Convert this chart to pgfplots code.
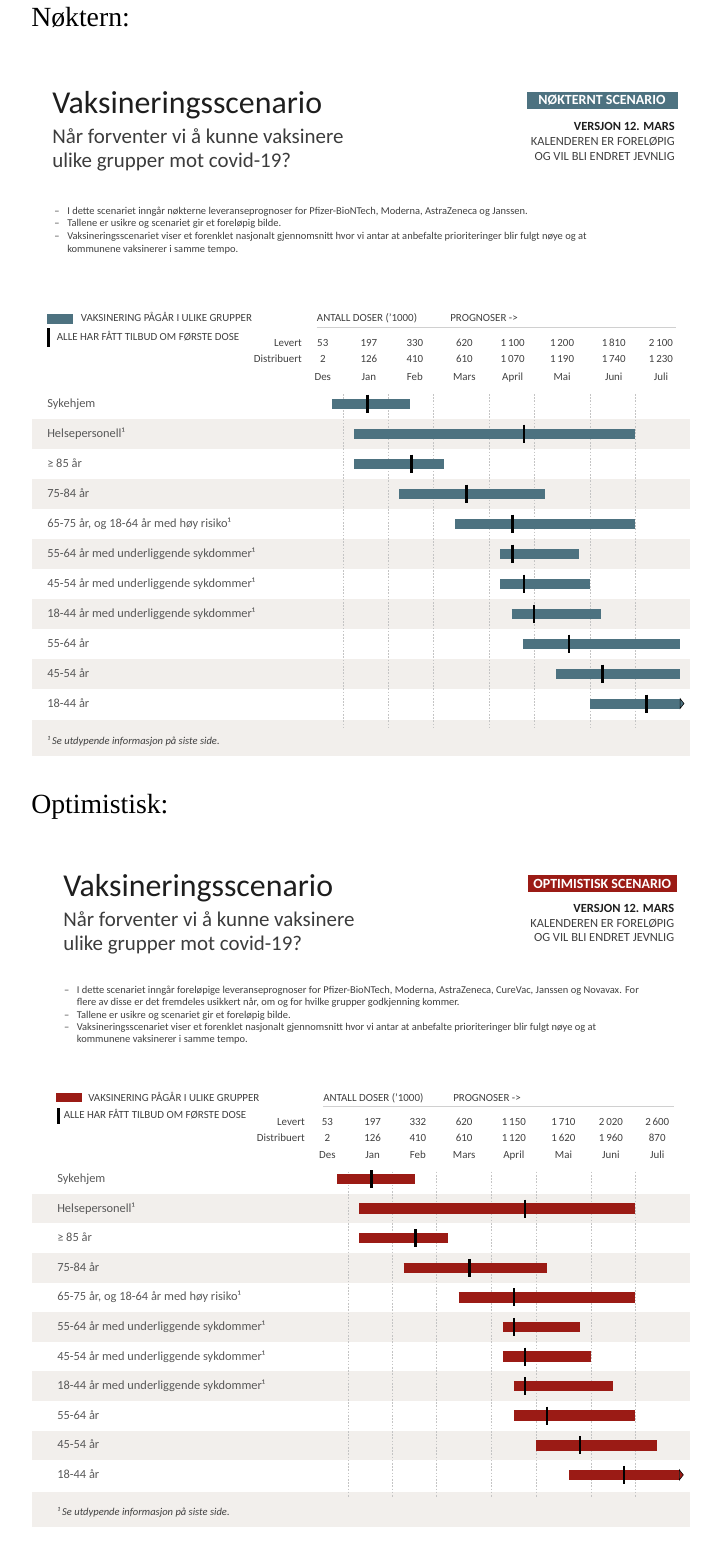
\documentclass[border=0pt]{standalone}
\usepackage{fontspec}
\setmainfont{Carlito}
\newfontfamily\serif{Liberation Serif}
\usepackage{pgfplots}
\pgfplotsset{compat=1.18}
\usepackage{pgfplotstable}

\definecolor{nblue}{HTML}{4D7280}
\definecolor{ored}{HTML}{9B1B15}
\definecolor{band}{HTML}{F2EFEC}
\definecolor{gridc}{HTML}{C4C4C4}
\definecolor{rulec}{HTML}{D0D0D0}
\definecolor{tit}{HTML}{1E1E1E}
\definecolor{sub}{HTML}{3C3C3C}
\definecolor{txt}{HTML}{404040}
\definecolor{lbl}{HTML}{595959}

\newcommand{\fhead}{\serif\fontsize{20.8}{25}\selectfont}
\newcommand{\ftitle}{\fontsize{23.9}{28}\selectfont}
\newcommand{\fsub}{\fontsize{15.7}{19}\selectfont}
\newcommand{\fbadge}{\fontsize{10.5}{12}\selectfont\bfseries}
\newcommand{\fver}{\fontsize{9.35}{11}\selectfont}
\newcommand{\fbul}{\fontsize{7.85}{9}\selectfont}
\newcommand{\fleg}{\fontsize{8.2}{9.5}\selectfont}
\newcommand{\ftab}{\fontsize{8.2}{9.5}\selectfont}
\newcommand{\frow}{\fontsize{9.3}{11}\selectfont}
\newcommand{\ffoot}{\fontsize{7.9}{9}\selectfont\itshape}

% x = weeks from 1 Dec (Jan starts at 4, Feb 8, Mar 12, Apr 17, May 21, Jun 26, Jul 30)
% nøktern scenario
\pgfplotstableread{
row start end mark
1  3 10  6.2
2  5 30 20.1
3  5 13 10.1
4  9 22 15.0
5 14 30 19.1
6 18 25 19.1
7 18 26 20.1
8 19 27 21.0
9 20 34 24.1
10 23 34 27.1
11 26 34 31.0
}\barsA

\pgfplotstableread{
x lev dist mon
2.2  53 2 Des
6.3  197 126 Jan
10.4 330 410 Feb
14.8 620 610 Mars
19.1 1100 1070 April
23.5 1200 1190 Mai
28.1 1810 1740 Juni
32.3 2100 1230 Juli
}\dosesA

% optimistisk scenario
\pgfplotstableread{
row start end mark
1  3 10  6.1
2  5 30 20.0
3  5 13 10.1
4  9 22 15.0
5 14 30 19.0
6 18 25 19.0
7 18 26 20.0
8 19 28 20.0
9 19 30 22.0
10 21 32 25.0
11 24 34 29.0
}\barsB

\pgfplotstableread{
x lev dist mon
2.1  53 2 Des
6.2  197 126 Jan
10.3 332 410 Feb
14.5 620 610 Mars
19.0 1150 1120 April
23.5 1710 1620 Mai
27.8 2020 1960 Juni
32.0 2600 870 Juli
}\dosesB

\pgfplotsset{
  gantt/.style={
    scale only axis, anchor=north west, clip=false,
    width=493.5pt, y dir=reverse,
    axis line style={draw=none}, tick style={draw=none},
    xtick={4,8,12,17,21,26,30}, xticklabels={},
    xmajorgrids, grid style={gridc, dash pattern=on 1.2pt off 1.2pt, line width=0.5pt},
    ytick={1,...,11},
    yticklabels={Sykehjem, Helsepersonell¹, ≥ 85 år, 75-84 år,
      {65-75 år, og 18-64 år med høy risiko¹},
      55-64 år med underliggende sykdommer¹,
      45-54 år med underliggende sykdommer¹,
      18-44 år med underliggende sykdommer¹,
      55-64 år, 45-54 år, 18-44 år},
    yticklabel style={anchor=west, inner sep=0pt, font=\frow, text=lbl,
      text height=1.4ex, text depth=0.3ex},
  },
  dose/.style={draw=none, mark=none, point meta=explicit,
    nodes near coords={\pgfmathprintnumber[assume math mode=true,1000 sep={\,}]{\pgfplotspointmeta}},
    nodes near coords style={anchor=base, inner sep=0pt, font=\ftab, text=txt}},
  month/.style={draw=none, mark=none, point meta=explicit symbolic,
    nodes near coords,
    nodes near coords style={anchor=base, inner sep=0pt, font=\ftab, text=txt}},
  tick/.style={only marks, mark=|, mark size=6.75pt,
    mark options={line width=1.9pt, draw=black}},
}

\begin{document}
\begin{tikzpicture}
\begin{scope}[x=0.75pt, y=-0.75pt]
\path (0,0) rectangle (711,1550);
\coordinate (P1) at (32,394);
\coordinate (P2) at (32,1171.7);

% ---------------- panel 1 ----------------
\node[anchor=base west, inner sep=0, font=\fhead] at (31,26.7) {Nøktern:};
\node[anchor=base west, inner sep=0, font=\ftitle, text=tit] at (52,113) {Vaksineringsscenario};
\node[anchor=base west, inner sep=0, font=\fsub, text=sub] at (52,143.4) {Når forventer vi å kunne vaksinere};
\node[anchor=base west, inner sep=0, font=\fsub, text=sub] at (52,167.5) {ulike grupper mot covid-19?};
\fill[nblue] (526.5,91.7) rectangle (677.5,109.3);
\node[text=white, font=\fbadge] at (602,100.5) {NØKTERNT SCENARIO};
\node[anchor=base east, inner sep=0, font=\fver\bfseries, text=tit] at (675,130) {VERSJON 12. MARS};
\node[anchor=base east, inner sep=0, font=\fver, text=txt] at (675,145.3) {KALENDEREN ER FORELØPIG};
\node[anchor=base east, inner sep=0, font=\fver, text=txt] at (675,160) {OG VIL BLI ENDRET JEVNLIG};

\begin{scope}[every node/.style={anchor=base west, inner sep=0, font=\fbul, text=txt}]
\node at (54,214) {–};
\node at (67,214) {I dette scenariet inngår nøkterne leveranseprognoser for Pfizer-BioNTech, Moderna, AstraZeneca og Janssen.};
\node at (54,226) {–};
\node at (67,226) {Tallene er usikre og scenariet gir et foreløpig bilde.};
\node at (54,239.5) {–};
\node at (67,239.5) {Vaksineringsscenariet viser et forenklet nasjonalt gjennomsnitt hvor vi antar at anbefalte prioriteringer blir fulgt nøye og at};
\node at (67,252) {kommunene vaksinerer i samme tempo.};
\end{scope}

\fill[nblue] (47,314) rectangle (73,324);
\fill[black] (47,328) rectangle (50,346.5);
\begin{scope}[every node/.style={anchor=base west, inner sep=0, font=\fleg, text=txt}]
\node at (80.6,321.5) {VAKSINERING PÅGÅR I ULIKE GRUPPER};
\node at (56.6,340) {ALLE HAR FÅTT TILBUD OM FØRSTE DOSE};
\node at (316.7,321.5) {ANTALL DOSER ('1000)};
\node at (450,321.5) {PROGNOSER ->};
\end{scope}
\draw[rulec, line width=0.6pt] (316.7,327) -- (676,327);
\node[anchor=base east, inner sep=0, font=\ftab, text=txt] at (302,346.6) {Levert};
\node[anchor=base east, inner sep=0, font=\ftab, text=txt] at (302,362.6) {Distribuert};

\foreach \k in {2,4,6,8,10} {
  \fill[band] (32,{388.5+30*(\k-1)}) rectangle (690,{418.5+30*(\k-1)});
}
\fill[band] (32,720) rectangle (690,756);
\node[anchor=base west, inner sep=0, font=\ffoot, text=txt] at (47,744) {¹ Se utdypende informasjon på siste side.};

% ---------------- panel 2 ----------------
\node[anchor=base west, inner sep=0, font=\fhead] at (31,813.5) {Optimistisk:};
\node[anchor=base west, inner sep=0, font=\ftitle, text=tit] at (63,896) {Vaksineringsscenario};
\node[anchor=base west, inner sep=0, font=\fsub, text=sub] at (63,926) {Når forventer vi å kunne vaksinere};
\node[anchor=base west, inner sep=0, font=\fsub, text=sub] at (63,950) {ulike grupper mot covid-19?};
\fill[ored] (527.5,875) rectangle (677,892);
\node[text=white, font=\fbadge] at (602.25,883.5) {OPTIMISTISK SCENARIO};
\node[anchor=base east, inner sep=0, font=\fver\bfseries, text=tit] at (674.5,912.3) {VERSJON 12. MARS};
\node[anchor=base east, inner sep=0, font=\fver, text=txt] at (674.5,927.3) {KALENDEREN ER FORELØPIG};
\node[anchor=base east, inner sep=0, font=\fver, text=txt] at (674.5,941.3) {OG VIL BLI ENDRET JEVNLIG};

\begin{scope}[every node/.style={anchor=base west, inner sep=0, font=\fbul, text=txt}]
\node at (63.8,993) {–};
\node at (76.6,993) {I dette scenariet inngår foreløpige leveranseprognoser for Pfizer-BioNTech, Moderna, AstraZeneca, CureVac, Janssen og Novavax. For};
\node at (76.6,1005.7) {flere av disse er det fremdeles usikkert når, om og for hvilke grupper godkjenning kommer.};
\node at (63.8,1018) {–};
\node at (76.6,1018) {Tallene er usikre og scenariet gir et foreløpig bilde.};
\node at (63.8,1030.3) {–};
\node at (76.6,1030.3) {Vaksineringsscenariet viser et forenklet nasjonalt gjennomsnitt hvor vi antar at anbefalte prioriteringer blir fulgt nøye og at};
\node at (76.6,1042.3) {kommunene vaksinerer i samme tempo.};
\end{scope}

\fill[ored] (56,1093) rectangle (82.4,1102);
\fill[black] (56.6,1107.7) rectangle (59.6,1124.3);
\begin{scope}[every node/.style={anchor=base west, inner sep=0, font=\fleg, text=txt}]
\node at (88,1101.5) {VAKSINERING PÅGÅR I ULIKE GRUPPER};
\node at (63.5,1118.3) {ALLE HAR FÅTT TILBUD OM FØRSTE DOSE};
\node at (323,1101.5) {ANTALL DOSER ('1000)};
\node at (453,1101.5) {PROGNOSER ->};
\end{scope}
\draw[rulec, line width=0.6pt] (323,1106) -- (674,1106);
\node[anchor=base east, inner sep=0, font=\ftab, text=txt] at (305,1125) {Levert};
\node[anchor=base east, inner sep=0, font=\ftab, text=txt] at (305,1141) {Distribuert};

\foreach \k in {2,4,6,8,10} {
  \fill[band] (32,{1164.2+29.6*(\k-1)}) rectangle (690,{1193.8+29.6*(\k-1)});
}
\fill[band] (32,1492) rectangle (690,1527);
\node[anchor=base west, inner sep=0, font=\ffoot, text=txt] at (57,1515) {¹ Se utdypende informasjon på siste side.};
\end{scope}

% ---------------- chart 1 ----------------
\begin{axis}[gantt, at={(P1)}, height=249.75pt,
  xmin=-23.684, xmax=34.888, ymin=0.683, ymax=11.783,
  yticklabel style={xshift=11.25pt}]
\addplot[draw=none, mark=none,
  error bars/.cd, x dir=plus, x explicit, error mark=none,
  error bar style={line width=7.5pt, draw=nblue}]
  table[x=start, y=row, x error expr=\thisrow{end}-\thisrow{start}] {\barsA};
\addplot[only marks, mark=triangle*, mark size=4.33pt,
  mark options={rotate=-90, yscale=0.45, fill=nblue, draw=none}]
  coordinates {(34.12,11)};
\addplot[tick] table[x=mark, y=row] {\barsA};
\addplot[dose] table[x=x, y expr=-0.897, meta=lev] {\dosesA};
\addplot[dose] table[x=x, y expr=-0.363, meta=dist] {\dosesA};
\addplot[month] table[x=x, y expr=0.237, meta=mon] {\dosesA};
\end{axis}

% ---------------- chart 2 ----------------
\begin{axis}[gantt, at={(P2)}, height=244.7pt,
  xmin=-24.685, xmax=34.970, ymin=0.753, ymax=11.78,
  yticklabel style={xshift=18.75pt}]
\addplot[draw=none, mark=none,
  error bars/.cd, x dir=plus, x explicit, error mark=none,
  error bar style={line width=7.9pt, draw=ored}]
  table[x=start, y=row, x error expr=\thisrow{end}-\thisrow{start}] {\barsB};
\addplot[only marks, mark=triangle*, mark size=4.5pt,
  mark options={rotate=-90, yscale=0.45, fill=ored, draw=none}]
  coordinates {(34.12,11)};
\addplot[tick] table[x=mark, y=row] {\barsB};
\addplot[dose] table[x=x, y expr=-0.824, meta=lev] {\dosesB};
\addplot[dose] table[x=x, y expr=-0.284, meta=dist] {\dosesB};
\addplot[month] table[x=x, y expr=0.301, meta=mon] {\dosesB};
\end{axis}
\end{tikzpicture}
\end{document}
